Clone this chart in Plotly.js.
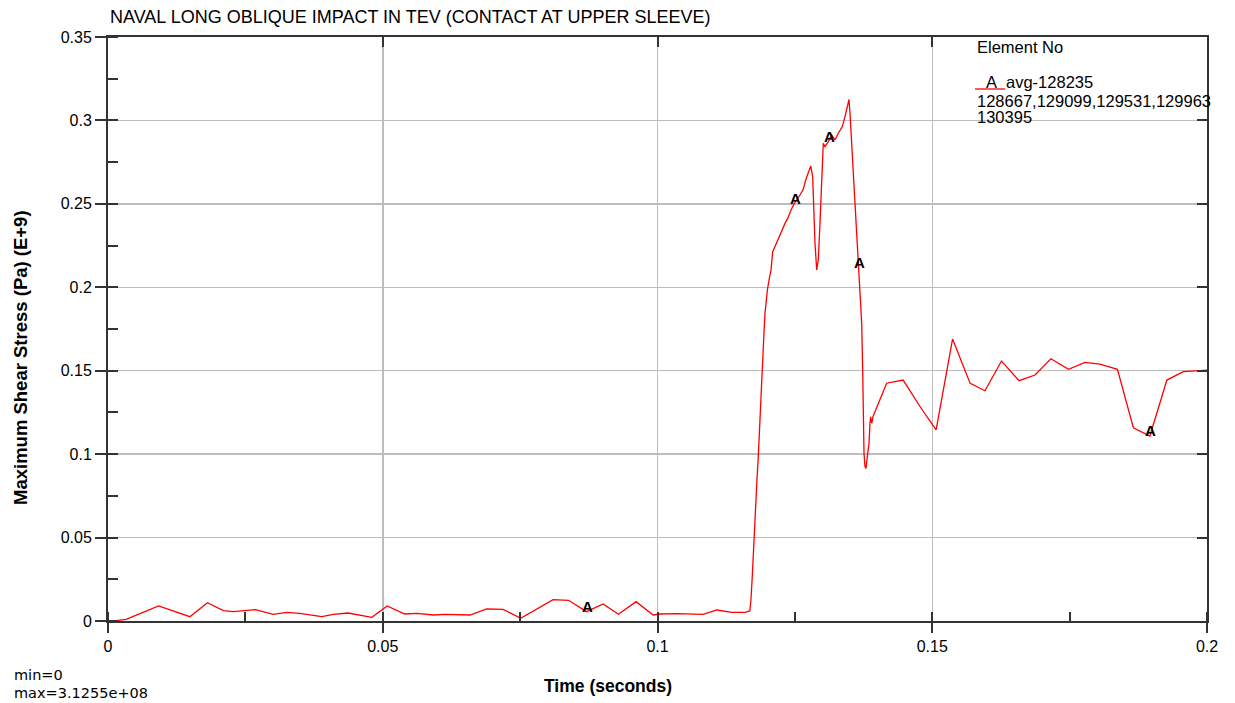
<!DOCTYPE html>
<html>
<head>
<meta charset="utf-8">
<script src="https://cdn.plot.ly/plotly-3.0.1.min.js"></script>
<style>
  html, body { margin: 0; padding: 0; background: #fff; }
  #chart { width: 1235px; height: 703px; }
</style>
</head>
<body>
<div id="chart"></div>
<script>
// Time history of the averaged maximum shear stress (E+9 Pa)
const timeSec = [
  0, 0.0015, 0.0033, 0.0092, 0.0149, 0.0181, 0.0210, 0.0228, 0.0268, 0.0301,
  0.0325, 0.0349, 0.0389, 0.0410, 0.0437, 0.0480, 0.0508, 0.0540, 0.0562, 0.0592,
  0.0613, 0.0659, 0.0689, 0.0719, 0.0751, 0.0810, 0.0838, 0.0871, 0.0901, 0.0929,
  0.0961, 0.0992, 0.1005, 0.1035, 0.1083, 0.1108, 0.1135, 0.1159, 0.1168, 0.1170,
  0.11725, 0.11743, 0.11762, 0.1179, 0.1181, 0.11834, 0.11853, 0.11865, 0.11883, 0.11914,
  0.11933, 0.11956, 0.1198, 0.1200, 0.1203, 0.12066, 0.12096, 0.12169, 0.12216, 0.1232,
  0.1237, 0.1243, 0.1249, 0.12593, 0.12653, 0.12697, 0.12744, 0.12788, 0.12824, 0.12848,
  0.12866, 0.12897, 0.12926, 0.12957, 0.12988, 0.13017, 0.13048, 0.13108, 0.1317, 0.1323,
  0.1329, 0.13363, 0.13412, 0.13454, 0.13485, 0.13503, 0.13534, 0.13563, 0.13594, 0.13625,
  0.13654, 0.13662, 0.13685, 0.13716, 0.13734, 0.13758, 0.13776, 0.13794, 0.13818, 0.13849,
  0.13867, 0.1388, 0.13898, 0.13921, 0.13958, 0.1417, 0.1447, 0.1478, 0.1507, 0.1537,
  0.1569, 0.1596, 0.1626, 0.1658, 0.1687, 0.1716, 0.1748, 0.1778, 0.1805, 0.1837,
  0.1866, 0.1896, 0.1927, 0.1957, 0.2000
];
const stressE9 = [
  0, 0.0002, 0.0010, 0.0090, 0.0026, 0.0110, 0.0062, 0.0056, 0.0068, 0.0040,
  0.0052, 0.0046, 0.0026, 0.0040, 0.0048, 0.0022, 0.0090, 0.0042, 0.0046, 0.0036,
  0.0040, 0.0036, 0.0072, 0.0070, 0.0016, 0.0128, 0.0124, 0.0056, 0.0102, 0.0040,
  0.0116, 0.0036, 0.0042, 0.0044, 0.0040, 0.0066, 0.0052, 0.0052, 0.0060, 0.0126,
  0.0270, 0.0415, 0.0556, 0.0705, 0.0845, 0.0985, 0.1125, 0.1265, 0.1408, 0.1554,
  0.1694, 0.1844, 0.1934, 0.1984, 0.2044, 0.2104, 0.2213, 0.2264, 0.2303, 0.2383,
  0.2413, 0.2463, 0.2503, 0.2553, 0.2587, 0.2643, 0.2683, 0.2727, 0.2663, 0.2423,
  0.2264, 0.2104, 0.2164, 0.2383, 0.2623, 0.2863, 0.2843, 0.2873, 0.2913, 0.2883,
  0.2923, 0.2963, 0.3023, 0.3082, 0.31255, 0.3043, 0.2863, 0.2683, 0.2483, 0.2343,
  0.2183, 0.2120, 0.1984, 0.1784, 0.1504, 0.1005, 0.0925, 0.0915, 0.0985, 0.1065,
  0.1185, 0.1224, 0.1185, 0.1224, 0.1254, 0.1425, 0.1444, 0.1284, 0.1145, 0.1690,
  0.1424, 0.1380, 0.1558, 0.1440, 0.1474, 0.1572, 0.1508, 0.1550, 0.1540, 0.1508,
  0.1158, 0.1109, 0.1444, 0.1494, 0.1504
];
// Curve identifier symbols placed along the line (indices into the series)
const symbolIdx = [27, 62, 77, 91, 121];
const symbolText = "A";

const titleText = "NAVAL LONG OBLIQUE IMPACT IN TEV (CONTACT AT UPPER SLEEVE)";
const xTitle = "Time (seconds)";
const yTitle = "Maximum Shear Stress (Pa) (E+9)";
const legendHeader = "Element No";
const legendLines = ["avg-128235", "128667,129099,129531,129963", "130395"];
const statLines = ["min=0", "max=3.1255e+08"];

const FONT = "Liberation Sans, Arial, sans-serif";
const WIDE = "DejaVu Sans, Verdana, sans-serif";
const AXIS = "#333333";
const GRID = "#bdbdbd";
const RED = "#ff0000";

const W = 1235, H = 703;
const m = { l: 108, r: 28, t: 37, b: 82 };
// container pixel position -> paper coordinates
const px = x => (x - m.l) / (W - m.l - m.r);
const py = y => (H - m.b - y) / (H - m.t - m.b);

const traces = [
  {
    x: timeSec, y: stressE9, type: "scatter", mode: "lines",
    line: { color: RED, width: 1.3 }, hoverinfo: "skip", showlegend: false
  },
  // empty trace so the mirrored tick axes get drawn
  { x: [], y: [], xaxis: "x2", yaxis: "y2", type: "scatter", showlegend: false }
];

const annotations = symbolIdx.map(i => ({
  x: timeSec[i], y: stressE9[i], xref: "x", yref: "y",
  text: "<b>" + symbolText + "</b>", showarrow: false, yshift: 5, xshift: 1,
  font: { family: FONT, size: 15, color: "#000" }
}));

const txt = (x, y, text, size, anchor, extra, family) => Object.assign({
  x: px(x), y: py(y), xref: "paper", yref: "paper", xanchor: anchor || "left", yanchor: "middle",
  text: text, showarrow: false, font: { family: family || FONT, size: size, color: "#000" }
}, extra || {});

annotations.push(
  txt(108, 17, titleText, 18),
  txt(608, 686, "<b>" + xTitle + "</b>", 17.5, "center"),
  txt(21, 358, "<b>" + yTitle + "</b>", 18.5, "center", { textangle: -90 }),
  txt(12, 675, statLines[0], 14.5, "left", null, WIDE),
  txt(12, 693, statLines[1], 14.5, "left", null, WIDE),
  txt(975, 47, legendHeader, 16.5),
  txt(984, 82, symbolText, 16.5),
  txt(1004, 82, legendLines[0], 16.5),
  txt(975, 101, legendLines[1], 16.5),
  txt(975, 117, legendLines[2], 16.5)
);

const shapes = [
  // legend line sample
  { type: "line", xref: "paper", yref: "paper", x0: px(975), x1: px(1005), y0: py(89), y1: py(89),
    line: { color: RED, width: 1.3 } }
];

const layout = {
  width: W, height: H,
  margin: m,
  paper_bgcolor: "#fff", plot_bgcolor: "#fff",
  showlegend: false,
  font: { family: FONT, color: "#000" },
  xaxis: {
    range: [0, 0.2], tick0: 0, dtick: 0.05, autorange: false,
    showgrid: true, gridcolor: GRID, gridwidth: 1.5, zeroline: false,
    showline: true, linecolor: AXIS, linewidth: 2, mirror: true,
    ticks: "outside", ticklen: 10, tickwidth: 2, tickcolor: AXIS,
    minor: { dtick: 0.025, tick0: 0, ticks: "inside", ticklen: 9, tickwidth: 2, tickcolor: AXIS, showgrid: false },
    tickfont: { family: FONT, size: 16, color: "#000" }
  },
  yaxis: {
    range: [0, 0.35], tick0: 0, dtick: 0.05, autorange: false,
    showgrid: true, gridcolor: GRID, gridwidth: 1.5, zeroline: false,
    showline: true, linecolor: AXIS, linewidth: 2, mirror: true,
    ticks: "outside", ticklen: 11, tickwidth: 2, tickcolor: AXIS,
    minor: { dtick: 0.025, tick0: 0, ticks: "inside", ticklen: 10, tickwidth: 2, tickcolor: AXIS, showgrid: false },
    tickfont: { family: FONT, size: 16, color: "#000" }
  },
  xaxis2: {
    overlaying: "x", side: "top", anchor: "y2", range: [0, 0.2], tick0: 0, dtick: 0.05, autorange: false,
    showgrid: false, zeroline: false, showline: false, showticklabels: false,
    ticks: "inside", ticklen: 10, tickwidth: 2, tickcolor: AXIS
  },
  yaxis2: {
    overlaying: "y", side: "right", anchor: "x2", range: [0, 0.35], tick0: 0, dtick: 0.05, autorange: false,
    showgrid: false, zeroline: false, showline: false, showticklabels: false,
    ticks: "inside", ticklen: 10, tickwidth: 2, tickcolor: AXIS
  },
  annotations: annotations,
  shapes: shapes
};

Plotly.newPlot("chart", traces, layout, { displayModeBar: false, staticPlot: true });
</script>
</body>
</html>
